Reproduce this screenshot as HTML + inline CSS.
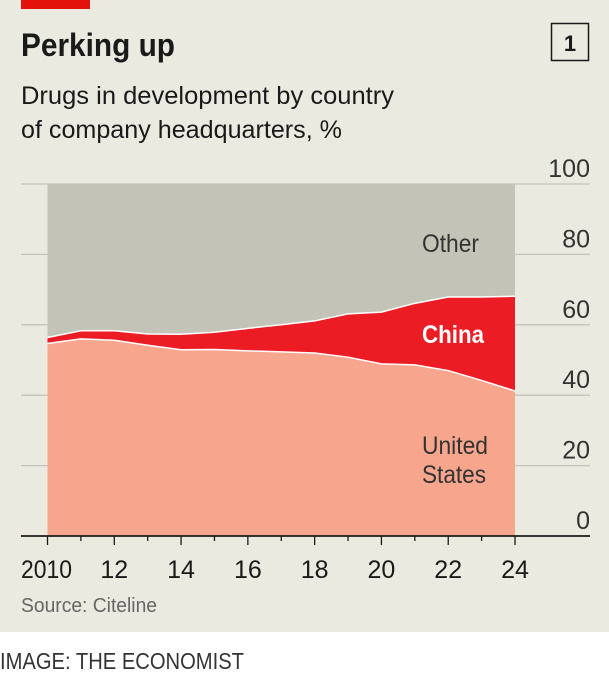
<!DOCTYPE html>
<html><head><meta charset="utf-8"><style>
body{margin:0;background:#fff;}
svg{display:block;}
text{font-family:"Liberation Sans Narrow","Liberation Sans",sans-serif;}
</style></head><body>
<svg id="chart" width="609" height="680" viewBox="0 0 609 680">
<rect x="0" y="0" width="609" height="632" fill="#ebeae0"/>
<rect x="21" y="0" width="69" height="9" fill="#e3120b"/>
<text x="21" y="56" font-size="32" font-weight="bold" fill="#1a1a1a" textLength="154" lengthAdjust="spacingAndGlyphs">Perking up</text>
<rect x="551.5" y="23.5" width="37" height="37" fill="none" stroke="#1a1a1a" stroke-width="1.5"/>
<text x="570" y="51" font-size="22" font-weight="bold" text-anchor="middle" fill="#1a1a1a">1</text>
<text x="21" y="104" font-size="25" fill="#1a1a1a" textLength="373" lengthAdjust="spacingAndGlyphs">Drugs in development by country</text>
<text x="21" y="138" font-size="25" fill="#1a1a1a" textLength="321" lengthAdjust="spacingAndGlyphs">of company headquarters, %</text>
<g id="grid"></g>
<g id="areas"></g>
<g id="axis"></g>
<text x="422" y="252" font-size="25" fill="#333" textLength="57" lengthAdjust="spacingAndGlyphs">Other</text>
<text x="422" y="343" font-size="25" font-weight="bold" fill="#fff" textLength="62" lengthAdjust="spacingAndGlyphs">China</text>
<text x="422" y="454" font-size="25" fill="#333" textLength="66" lengthAdjust="spacingAndGlyphs">United</text>
<text x="422" y="483" font-size="25" fill="#333" textLength="64" lengthAdjust="spacingAndGlyphs">States</text>
<text x="21" y="612" font-size="20" fill="#666" textLength="136" lengthAdjust="spacingAndGlyphs">Source: Citeline</text>
<text x="0" y="669" font-size="23" fill="#333" textLength="244" lengthAdjust="spacingAndGlyphs">IMAGE: THE ECONOMIST</text>
</svg>
<script>
const years=[2010,2011,2012,2013,2014,2015,2016,2017,2018,2019,2020,2021,2022,2023,2024];
const usShare=[54.7,56,55.6,54.2,52.9,53,52.6,52.3,52,50.8,48.9,48.6,47,44.2,41.2];
const chinaShare=[1.7,2.3,2.7,3.2,4.4,4.9,6.4,7.7,9.1,12.3,14.7,17.5,20.9,23.7,26.9];
const yTicks=[0,20,40,60,80,100];
const xTickLabels=["2010","12","14","16","18","20","22","24"];
const NS="http://www.w3.org/2000/svg";
const x=v=>47.5+(v-2010)*(515-47.5)/14;
const y=v=>536-v*3.52;
function mk(tag,attrs,parent){const e=document.createElementNS(NS,tag);for(const k in attrs)e.setAttribute(k,attrs[k]);parent.appendChild(e);return e;}
const grid=document.getElementById('grid'),areas=document.getElementById('areas'),axis=document.getElementById('axis');
yTicks.forEach(t=>{
  if(t>0){const l=mk('line',{x1:21,x2:590,y1:y(t),y2:y(t),stroke:'#c5c4bb','stroke-width':1.3},grid);
  
  }
  const tx=mk('text',{x:590,y:y(t)-7,'font-size':25,'text-anchor':'end',fill:'#333'},grid);
  tx.textContent=t;
  
  
});
const tops=usShare.map((u,i)=>u+chinaShare[i]);
function areaPath(lo,hi){let d='';years.forEach((yr,i)=>{d+=(i?'L':'M')+x(yr)+','+y(hi[i]);});for(let i=years.length-1;i>=0;i--)d+='L'+x(years[i])+','+y(lo[i]);return d+'Z';}
const zeros=years.map(()=>0),hund=years.map(()=>100);
const po=mk('path',{d:areaPath(tops,hund),fill:'#c4c3b8'},areas);


const pc=mk('path',{d:areaPath(usShare,tops),fill:'#ec1c24'},areas);


const pu=mk('path',{d:areaPath(zeros,usShare),fill:'#f7a68d'},areas);


[usShare,tops].forEach((s,k)=>{let d='';years.forEach((yr,i)=>{d+=(i?'L':'M')+x(yr)+','+y(s[i]);});
  const l=mk('path',{d:d,fill:'none',stroke:'#fff','stroke-width':1.5},areas);
  
  });
const base=mk('line',{x1:21,x2:590,y1:536,y2:536,stroke:'#1a1a1a','stroke-width':1.8},axis);


years.forEach((yr,i)=>{const major=i%2===0;
  const t=mk('line',{x1:x(yr),x2:x(yr),y1:536,y2:major?545:541,stroke:'#1a1a1a','stroke-width':1.3},axis);
  
  
  if(major){const tx=mk('text',{x:i===0?21:x(yr),y:578,'font-size':25,'text-anchor':i===0?'start':'middle',fill:'#1a1a1a'},axis);
  if(i===0){tx.setAttribute('textLength','51');tx.setAttribute('lengthAdjust','spacingAndGlyphs');}
  tx.textContent=xTickLabels[i/2];
  
  }
});
</script>
</body></html>
